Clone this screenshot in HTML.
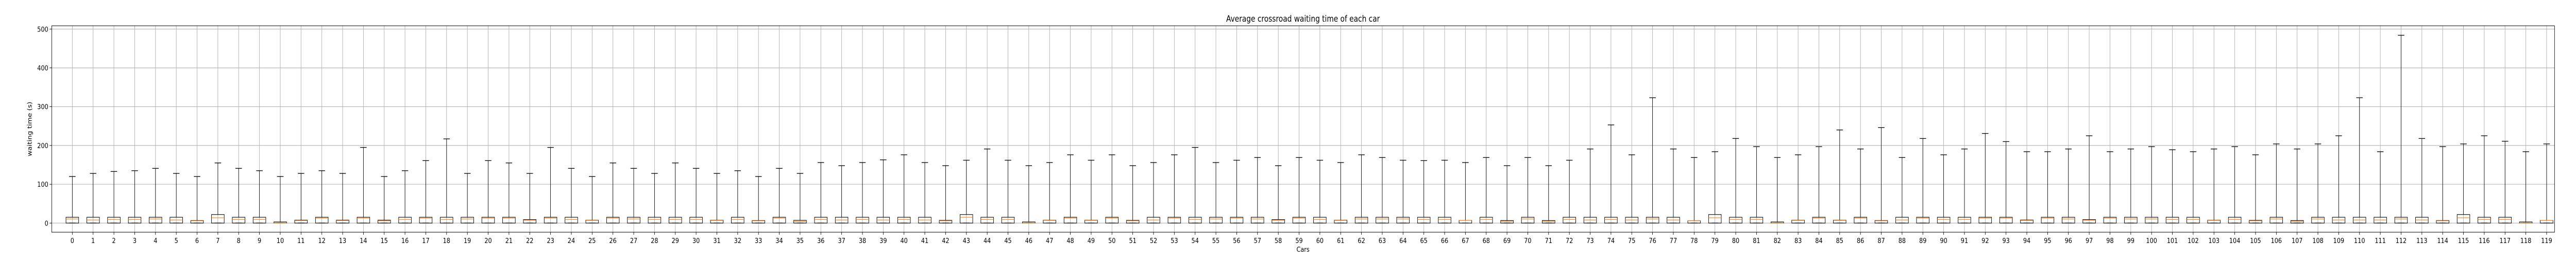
<!DOCTYPE html>
<html><head><meta charset="utf-8">
<style>
html,body{margin:0;padding:0;background:#fff;width:100vw;height:100vh;overflow:hidden;}
svg{display:block;width:100vw;height:100vh;font-family:"DejaVu Sans","Liberation Sans",sans-serif;}
</style></head>
<body>
<svg id="chart" viewBox="0 0 6000 500" preserveAspectRatio="none" xmlns="http://www.w3.org/2000/svg">
  <rect x="0" y="0" width="6000" height="500" fill="#fff"/>
  <g id="grid"></g>
  <g id="boxes"></g>
  <rect x="120.5" y="50" width="5829.5" height="400" fill="none" stroke="#000" stroke-width="1"/>
  <g id="xticks"></g>
  <g id="yticks"></g>
  <text x="3035" y="42" font-size="16.5" text-anchor="middle">Average crossroad waiting time of each car</text>
  <text x="3035" y="488" font-size="13.5" text-anchor="middle">Cars</text>
  <text x="0" y="0" font-size="13.5" text-anchor="middle" transform="translate(74,250) rotate(-90)">waiting time (s)</text>
</svg>
<script>
const categories = Array.from({length:120},(_,i)=>String(i));
const whiskerHigh = [120,128,133,135,141,128,120,155,141,135,120,128,135,128,195,120,135,161,217,128,
161,155,128,195,141,120,155,141,128,155,141,128,135,120,141,128,156,148,156,163,
176,156,148,162,191,162,148,156,176,162,176,148,156,176,195,156,162,169,148,169,162,
156,176,169,162,161,162,156,169,148,169,148,162,191,253,176,323,191,169,184,218,197,
169,176,197,240,191,246,169,218,176,191,231,210,184,184,191,225,184,191,197,189,184,
191,197,176,204,191,204,225,323,184,484,218,197,204,225,211,184,204];
const q3Values = [15,15,15,15,15,15,6.6,22,15,15, 3,7.5,15,7.5,15,7.5,15,15,15,15,
15,15,9,15,15,7.5,15,15,15,15, 15,7.5,15,6.6,15,7,15,15,15,15,
15,15,7,22,15,15,3,7.5,15,7.5, 15,7,15,15,15,15,15,15,9,15,
15,7.5,15,15,15,15,15,7,15,6.6, 15,6.6,15,15,15,15,15,15,6,22,
15,15,3,7.5,15,7.5,15,6.6,15,15, 15,15,15,15,8,15,15,9,15,15,
15,15,15,7.5,15,7,15,6.6,15,15, 15,15,15,15,6.6,22,15,15,3,7];
const medianValues = [10.6,8,9.3,9.3,10.6,8,5.8,13.7,9.3,9.3, 0,6.6,12.4,6.6,12.4,5.8,9.3,12.4,9.3,10.6,
12.4,12.4,7,12.4,9.3,7,12.4,10.6,9.3,9.3, 9.3,7,9.3,5.8,12.4,4,9.3,8,9.3,8,
9.3,8,5.8,15,9.3,9.3,0,7,12.4,7, 12.4,5.8,8,12.4,9.3,10.6,12.4,10.6,7,12.4,
9.3,7,10.6,10.6,10.6,9.3,9.3,7,9.3,4, 10.6,4,9.3,8,9.3,8,10.6,8,5.8,13.7,
9.3,9.3,0,7,12.4,7,12.4,5.8,8,12.4, 9.3,9.3,12.4,12.4,7,12.4,10.6,7,12.4,10.6,
10.6,9.3,9.3,7,9.3,5.8,10.6,4,10.6,8, 8,8,10.6,8,5.8,13.7,9.3,9.3,0,7];
const q1Values = new Array(120).fill(0);
const whiskerLow = new Array(120).fill(0);
const yTickValues = [0,100,200,300,400,500];

const NS="http://www.w3.org/2000/svg";
const PL=120.5, PR=5950, PT=50, PB=450;
const XMIN=-0.99, XMAX=119.38, YMIN=-23.5, YMAX=508.4;
function xs(v){return PL+(v-XMIN)/(XMAX-XMIN)*(PR-PL);}
function ys(v){return PB-(v-YMIN)/(YMAX-YMIN)*(PB-PT);}
function mk(tag,attrs,parent){const e=document.createElementNS(NS,tag);for(const k in attrs)e.setAttribute(k,attrs[k]);parent.appendChild(e);return e;}
const grid=document.getElementById('grid'),boxes=document.getElementById('boxes'),xt=document.getElementById('xticks'),yt=document.getElementById('yticks');
const BW=29.5, CW=15;
categories.forEach((c,i)=>{
  const x=xs(i);
  const gl=mk('line',{x1:x,x2:x,y1:PT,y2:PB,stroke:'#b0b0b0','stroke-width':1.1},grid);
  
  
  const tk=mk('line',{x1:x,x2:x,y1:PB,y2:PB+5,stroke:'#000','stroke-width':1},xt);
  
  
  const tl=mk('text',{x:x,y:PB+21,'font-size':13.5,'text-anchor':'middle'},xt);
  tl.textContent=c;
  
  
  const g=mk('g',{},boxes);
  
  
  const yq1=ys(q1Values[i]), yq3=ys(q3Values[i]), ym=ys(medianValues[i]), yh=ys(whiskerHigh[i]), yl=ys(whiskerLow[i]);
  mk('line',{x1:x,x2:x,y1:yq3,y2:yh,stroke:'#000','stroke-width':1},g);
  mk('line',{x1:x,x2:x,y1:yq1,y2:yl,stroke:'#000','stroke-width':1},g);
  mk('line',{x1:x-CW/2,x2:x+CW/2,y1:yh,y2:yh,stroke:'#000','stroke-width':1.3},g);
  mk('line',{x1:x-CW/2,x2:x+CW/2,y1:yl,y2:yl,stroke:'#000','stroke-width':1.3},g);
  mk('rect',{x:x-BW/2,y:yq3,width:BW,height:Math.max(yq1-yq3,0.5),fill:'none',stroke:'#000','stroke-width':1.1},g);
  mk('line',{x1:x-BW/2,x2:x+BW/2,y1:ym,y2:ym,stroke:'#ff7f0e','stroke-width':1.1},g);
});
yTickValues.forEach(v=>{
  const y=ys(v);
  const gl=mk('line',{x1:PL,x2:PR,y1:y,y2:y,stroke:'#b0b0b0','stroke-width':1.1},grid);
  
  
  const tk=mk('line',{x1:PL-5,x2:PL,y1:y,y2:y,stroke:'#000','stroke-width':1},yt);
  
  
  const tl=mk('text',{x:PL-8,y:y+5,'font-size':13.5,'text-anchor':'end'},yt);
  tl.textContent=String(v);
  
  
});
</script>
</body></html>
